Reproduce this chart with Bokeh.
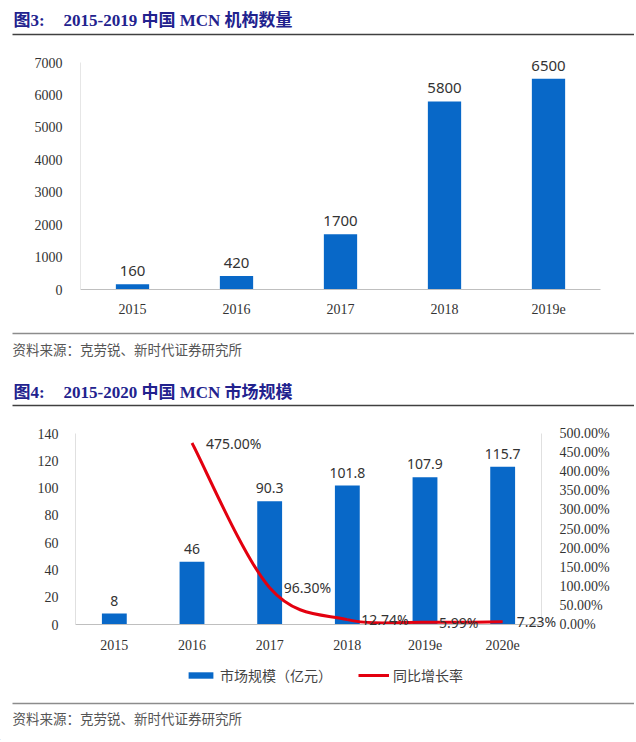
from bokeh.plotting import figure
from bokeh.models import (Range1d, FactorRange, LinearAxis, FixedTicker, ColumnDataSource,
                          LabelSet, Legend, LegendItem, PrintfTickFormatter)
from bokeh.core.properties import value
from bokeh.embed import file_html
from bokeh.resources import INLINE

# ---------------- data ----------------
years1 = ["2015", "2016", "2017", "2018", "2019e"]
mcn_count = [160, 420, 1700, 5800, 6500]
count_ticks = [0, 1000, 2000, 3000, 4000, 5000, 6000, 7000]

years2 = ["2015", "2016", "2017", "2018", "2019e", "2020e"]
market_size = [8, 46, 90.3, 101.8, 107.9, 115.7]
growth_years = ["2016", "2017", "2018", "2019e", "2020e"]
growth_pct = [475.00, 96.30, 12.74, 5.99, 7.23]
size_ticks = [0, 20, 40, 60, 80, 100, 120, 140]
pct_ticks = [0, 50, 100, 150, 200, 250, 300, 350, 400, 450, 500]

title1_num = "图3:"
title1_text = "2015-2019 中国 MCN 机构数量"
title2_num = "图4:"
title2_text = "2015-2020 中国 MCN 市场规模"
source_text = "资料来源：克劳锐、新时代证券研究所"
legend_labels = ["市场规模（亿元）", "同比增长率"]

# ---------------- style ----------------
W = 634
BLUE = "#0868c8"
RED = "#e3000f"
NAVY = "#22228e"
SERIF = "Liberation Serif"
SANS = "Noto Sans"
CJK = "Noto Sans CJK SC"
TITLE_FONT = "'Liberation Serif', 'Noto Sans CJK SC'"
TICK_COLOR = "#333333"


def strip(h):
    p = figure(width=W, height=h, x_range=Range1d(0, W), y_range=Range1d(0, h),
               output_backend="svg", toolbar_location=None,
               x_axis_type=None, y_axis_type=None, min_border=0)
    p.outline_line_color = None
    return p


def add_title(p, h, top, ref_y, num, text):
    y = h - (ref_y - top)
    p.text(x=[13], y=[y], text=[num], text_font=value(TITLE_FONT), text_font_style="bold",
           text_font_size="17px", text_color=NAVY, text_baseline="middle", text_align="left")
    p.text(x=[63], y=[y], text=[text], text_font=value(TITLE_FONT), text_font_style="bold",
           text_font_size="17px", text_color=NAVY, text_baseline="middle", text_align="left")


def add_rule(p, h, top, ref_y, color, width):
    y = h - (ref_y - top)
    p.segment(x0=[12], y0=[y], x1=[W], y1=[y], line_color=color, line_width=width)


def add_source(p, h, top, ref_y):
    y = h - (ref_y - top)
    p.text(x=[12], y=[y], text=[source_text], text_font=value(CJK), text_font_size="13.5px",
           text_color="#555555", text_baseline="middle", text_align="left")


# ---------- strip: title 1 (ref y 0..44) ----------
t1 = strip(44)
add_title(t1, 44, 0, 20, title1_num, title1_text)
add_rule(t1, 44, 0, 34, "#404040", 1.4)

# ---------- chart 1 (ref y 44..318) ----------
# frame starts 16px above the 7000 line so the top value label stays inside
EXTRA1 = 16
p1 = figure(width=W, height=274, x_range=FactorRange(*years1),
            y_range=Range1d(0, 7000 * (1 + EXTRA1 / 227)),
            output_backend="svg", toolbar_location=None,
            min_border_left=80, min_border_right=W - 600, min_border_top=18 - EXTRA1,
            min_border_bottom=29)
p1.outline_line_color = None
p1.grid.visible = False
src1 = ColumnDataSource(dict(x=years1, top=mcn_count, label=[str(v) for v in mcn_count]))
p1.vbar(x="x", top="top", width=0.32, source=src1, fill_color=BLUE, line_color=None)
p1.add_layout(LabelSet(x="x", y="top", text="label", source=src1, y_offset=8,
                       text_align="center", text_baseline="bottom",
                       text_font=value(SANS), text_font_size="15px", text_color="#333333"))
p1.yaxis.ticker = FixedTicker(ticks=count_ticks)
p1.yaxis.bounds = (0, 7000)
for ax in (p1.xaxis[0], p1.yaxis[0]):
    ax.major_tick_line_color = None
    ax.minor_tick_line_color = None
    ax.major_label_text_font = SERIF
    ax.major_label_text_font_size = "14px"
    ax.major_label_text_color = TICK_COLOR
p1.xaxis.axis_line_color = "#bfbfbf"
p1.xaxis.major_label_standoff = 8
p1.yaxis.axis_line_color = "#e6e6e6"
p1.yaxis.major_label_standoff = 12

# ---------- strip: source 1 + title 2 (ref y 318..415) ----------
s1 = strip(97)
add_rule(s1, 97, 318, 333, "#8c8c8c", 1.6)
add_source(s1, 97, 318, 348)
add_title(s1, 97, 318, 392, title2_num, title2_text)
add_rule(s1, 97, 318, 405, "#404040", 1.4)

# ---------- chart 2 (ref y 415..652) ----------
p2 = figure(width=W, height=237, x_range=FactorRange(*years2), y_range=Range1d(0, 140),
            output_backend="svg", toolbar_location=None,
            min_border_left=75, min_border_right=W - 541, min_border_top=18, min_border_bottom=27)
p2.outline_line_color = None
p2.grid.visible = False
p2.extra_y_ranges = {"pct": Range1d(0, 500)}

src2 = ColumnDataSource(dict(x=years2, top=market_size, label=[f"{v:g}" for v in market_size]))
p2.vbar(x="x", top="top", width=0.32, source=src2, fill_color=BLUE, line_color=None)
p2.add_layout(LabelSet(x="x", y="top", text="label", source=src2, y_offset=8,
                       text_align="center", text_baseline="bottom",
                       text_font=value(SANS), text_font_size="14px", text_color="#333333"))

# smoothed growth line (Excel-style smoothing through the data points, drawn as Bezier segments)
gx = [years2.index(y) + 0.5 for y in growth_years]
gy = growth_pct
n = len(gx)


def pt(i):
    i = max(0, min(n - 1, i))
    return gx[i], gy[i]


bz = dict(x0=[], y0=[], x1=[], y1=[], cx0=[], cy0=[], cx1=[], cy1=[])
for i in range(n - 1):
    xa, ya = pt(i)
    xb, yb = pt(i + 1)
    xp, yp = pt(i - 1)
    xn, yn = pt(i + 2)
    bz["x0"].append(xa); bz["y0"].append(ya)
    bz["x1"].append(xb); bz["y1"].append(yb)
    bz["cx0"].append(xa + (xb - xp) / 6); bz["cy0"].append(ya + (yb - yp) / 6)
    bz["cx1"].append(xb - (xn - xa) / 6); bz["cy1"].append(yb - (yn - ya) / 6)
p2.bezier(x0="x0", y0="y0", x1="x1", y1="y1", cx0="cx0", cy0="cy0", cx1="cx1", cy1="cy1",
          source=ColumnDataSource(bz), y_range_name="pct", line_color=RED, line_width=3)

src3 = ColumnDataSource(dict(x=growth_years, y=growth_pct, label=[f"{v:.2f}%" for v in growth_pct]))
p2.text(x="x", y="y", text="label", source=src3, y_range_name="pct", level="overlay",
        x_offset=14, text_align="left", text_baseline="middle",
        text_font=value(SANS), text_font_size="14px", text_color="#333333")

p2.yaxis.ticker = FixedTicker(ticks=size_ticks)
pax = LinearAxis(y_range_name="pct", ticker=FixedTicker(ticks=pct_ticks),
                 formatter=PrintfTickFormatter(format="%.2f%%"))
p2.add_layout(pax, "right")
for ax in (p2.xaxis[0], p2.yaxis[0], pax):
    ax.major_tick_line_color = None
    ax.minor_tick_line_color = None
    ax.major_label_text_font = SERIF
    ax.major_label_text_font_size = "14px"
    ax.major_label_text_color = TICK_COLOR
    ax.major_label_standoff = 11
p2.xaxis.axis_line_color = "#bfbfbf"
p2.xaxis.major_label_standoff = 9
p2.yaxis[0].axis_line_color = "#e0e0e0"
pax.axis_line_color = "#e0e0e0"
pax.major_label_standoff = 12

# ---------- strip: legend + source 2 (ref y 652..740) ----------
s2 = strip(88)
# legend proxies: placed off-canvas (outside the strip's range), only their legend swatches show
leg_bar = s2.vbar(x=[-100], top=[1], width=1, fill_color=BLUE, line_color=None)
leg_line = s2.line(x=[-110, -100], y=[1, 1], line_color=RED, line_width=3)
legend = Legend(items=[LegendItem(label=legend_labels[0], renderers=[leg_bar]),
                       LegendItem(label=legend_labels[1], renderers=[leg_line])],
                orientation="horizontal", location=(185, 55), padding=3, margin=0,
                spacing=26, label_standoff=4, glyph_width=31, glyph_height=8,
                label_text_font=CJK, label_text_font_size="14px", label_text_color="#444444",
                border_line_color=None, background_fill_alpha=0)
s2.add_layout(legend, "center")
add_rule(s2, 88, 652, 703, "#8c8c8c", 1.6)
add_source(s2, 88, 652, 717)

open("out.html", "w").write(file_html([t1, p1, s1, p2, s2], INLINE))
